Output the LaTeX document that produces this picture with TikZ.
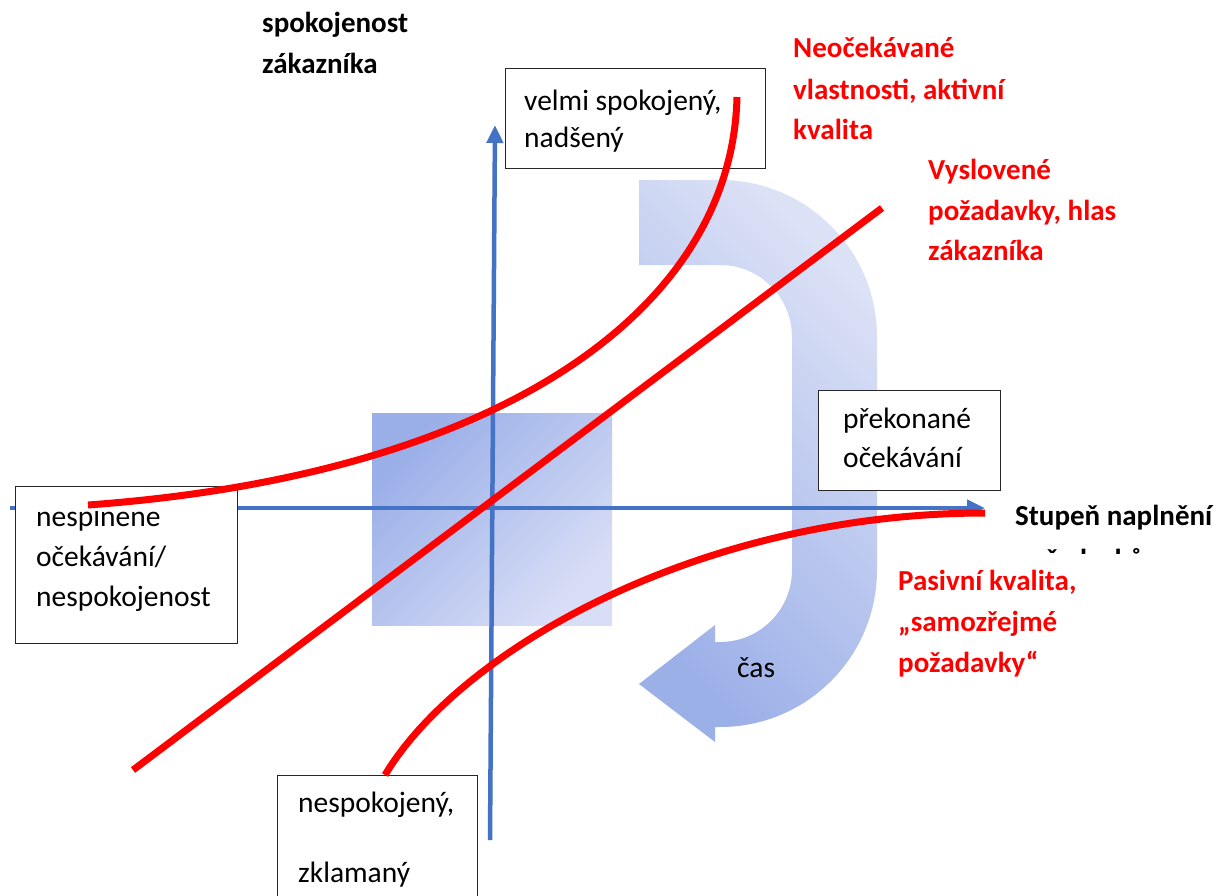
\documentclass[tikz,border=0pt]{standalone}
\usepackage{fontspec}
\setmainfont{Carlito}
\usetikzlibrary{arrows.meta}
\definecolor{axisblue}{HTML}{4472C4}
\definecolor{redline}{HTML}{FF0000}
\definecolor{sqdark}{HTML}{9AAFE8}
\definecolor{sqlight}{HTML}{D8DEF5}
\definecolor{udark}{HTML}{9CB0E8}
\definecolor{ulight}{HTML}{DCE2F6}
\begin{document}
\begin{tikzpicture}[x=1pt,y=-1pt,
  txt/.style={font=\fontsize{29.5}{40}\selectfont, anchor=base west, inner sep=0pt},
  bold/.style={txt, font=\fontsize{29}{40}\selectfont\bfseries},
  redlbl/.style={bold, text=redline},
  boxframe/.style={draw=black!85, line width=1.2pt, fill=white, inner sep=0pt, anchor=north west},
  axisline/.style={draw=axisblue, line width=4.5pt, -{Triangle[width=16pt,length=18pt]}},
  curve/.style={draw=redline, line width=7pt},
]
\useasboundingbox[fill=white] (0,0) rectangle (1232,895);

% gradient square
\shade[top color=sqdark, bottom color=sqlight, shading angle=45] (372,413) rectangle (612,625);

% U-turn arrow
\shade[top color=ulight, bottom color=udark, shading angle=-45]
  (639,180) -- (720,180)
  .. controls (806.7,180) and (877,250.3) .. (877,337)
  -- (877,570)
  .. controls (877,656.7) and (806.7,727) .. (720,727)
  -- (715,727) -- (715,742) -- (639,684) -- (715,625) -- (715,642) -- (720,642)
  .. controls (759.8,642) and (792,609.8) .. (792,570)
  -- (792,337)
  .. controls (792,297.2) and (759.8,265) .. (720,265)
  -- (639,265) -- cycle;
\node[txt] (cas) at (737,677) {čas};

% axes
\coordinate (yb) at (490,840);
\coordinate (yt) at (495,125);
\coordinate (xl) at (10,508);
\coordinate (xr) at (985,508);
\draw[axisline] (yb) -- (yt);
\draw[axisline] (xl) -- (xr);

% boxes
\node[boxframe, minimum width=260pt, minimum height=100pt] (velmi) at (505,68) {};
\node[txt] (velmi1) at (524,110) {velmi spokojený,};
\node[txt] (velmi2) at (524,147) {nadšený};

\node[boxframe, minimum width=182pt, minimum height=100pt] (prek) at (818,390) {};
\node[txt] (prek1) at (843,428) {překonané};
\node[txt] (prek2) at (843,467) {očekávání};

\node[boxframe, minimum width=222pt, minimum height=157pt] (nespl) at (15,486) {};
\begin{scope}
  \clip (16,511) rectangle (236,540);
  \node[txt] (nespl1) at (36,526) {nesplněné};
\end{scope}
\node[txt] (nespl2) at (36,566) {očekávání/};
\node[txt] (nespl3) at (36,606) {nespokojenost};

\node[boxframe, minimum width=200pt, minimum height=145pt] (nespok) at (277,775) {};
\node[txt] (nespok1) at (298,812) {nespokojený,};
\node[txt] (nespok2) at (298,882) {zklamaný};

% red curves
\coordinate (c1a) at (88,505);
\coordinate (c1b) at (737,97);
\coordinate (c2a) at (133,770);
\coordinate (c2b) at (882,208);
\coordinate (c3a) at (385,775);
\coordinate (c3b) at (985,513);
\draw[curve] (c1a) .. controls (500,475) and (732,310) .. (c1b);
\draw[curve] (c2a) -- (c2b);
\draw[curve] (c3a) .. controls (460,650) and (700,513) .. (c3b);

% axis labels
\node[bold] (ylab1) at (262,32) {spokojenost};
\node[bold] (ylab2) at (262,73) {zákazníka};
\node[bold] (xlab1) at (1015,525) {Stupeň naplnění};
\begin{scope}
  \clip (1000,540) rectangle (1232,553);
  \node[bold] (xlab2) at (1015,569) {požadavků};
\end{scope}

% red labels
\node[redlbl] (neo1) at (793,57) {Neočekávané};
\node[redlbl] (neo2) at (793,99) {vlastnosti, aktivní};
\node[redlbl] (neo3) at (793,139) {kvalita};

\node[redlbl] (vys1) at (928,179) {Vyslovené};
\node[redlbl] (vys2) at (928,220) {požadavky, hlas};
\node[redlbl] (vys3) at (928,260) {zákazníka};

\node[redlbl] (pas1) at (898,590) {Pasivní kvalita,};
\node[redlbl] (pas2) at (898,631) {„samozřejmé};
\node[redlbl] (pas3) at (898,672) {požadavky“};
\end{tikzpicture}
\end{document}
